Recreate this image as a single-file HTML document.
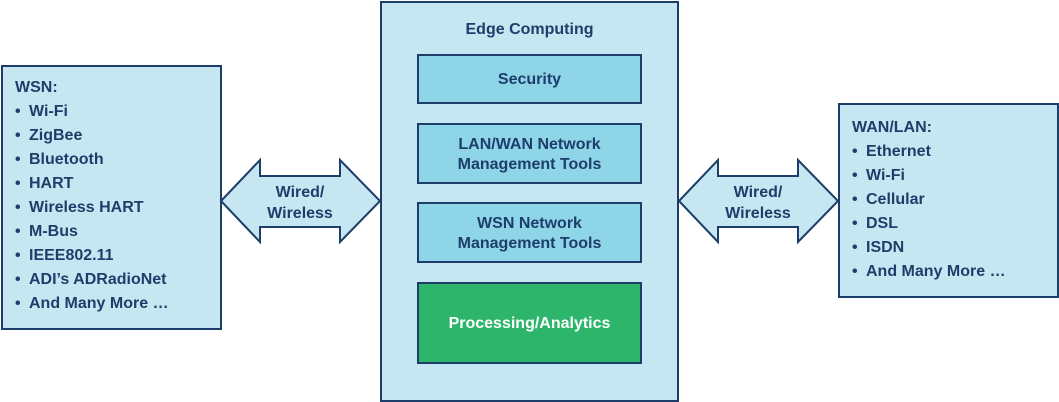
<!DOCTYPE html>
<html><head><style>
body{margin:0;width:1059px;height:402px;background:#fff;position:relative;overflow:hidden;font-family:"Liberation Sans",Arial,sans-serif;font-weight:bold;color:#1d3e6b;font-size:16px}
.b{position:absolute;box-sizing:border-box;border:2px solid #1d3e6b;background:#c6e7f1}
.i{position:absolute;box-sizing:border-box;border:2px solid #1d3e6b;background:#8ed5e7;display:flex;align-items:center;justify-content:center;text-align:center;line-height:20px;padding-top:2px}
.l{position:absolute;line-height:24px}
.l span{display:inline-block;width:14px}
</style></head><body>
<div class="b" style="left:1px;top:65px;width:221px;height:265px"></div>
<div class="l" style="left:15px;top:76px">WSN:<br><span>•</span>Wi-Fi<br><span>•</span>ZigBee<br><span>•</span>Bluetooth<br><span>•</span>HART<br><span>•</span>Wireless HART<br><span>•</span>M-Bus<br><span>•</span>IEEE802.11<br><span>•</span>ADI’s ADRadioNet<br><span>•</span>And Many More …</div>
<div class="b" style="left:380px;top:1px;width:299px;height:401px"></div>
<div style="position:absolute;left:380px;width:299px;top:21px;text-align:center">Edge Computing</div>
<div class="i" style="left:417px;top:54px;width:225px;height:50px">Security</div>
<div class="i" style="left:417px;top:123px;width:225px;height:61px">LAN/WAN Network<br>Management Tools</div>
<div class="i" style="left:417px;top:202px;width:225px;height:61px">WSN Network<br>Management Tools</div>
<div class="i" style="left:417px;top:282px;width:225px;height:82px;background:#2db56b;color:#fff">Processing/Analytics</div>
<div class="b" style="left:838px;top:103px;width:221px;height:195px"></div>
<div class="l" style="left:852px;top:116px">WAN/LAN:<br><span>•</span>Ethernet<br><span>•</span>Wi-Fi<br><span>•</span>Cellular<br><span>•</span>DSL<br><span>•</span>ISDN<br><span>•</span>And Many More …</div>
<svg style="position:absolute;left:0;top:0" width="1059" height="402">
<polygon points="221,201 260,160 260,176 340,176 340,160 380,201 340,242 340,227 260,227 260,242" fill="#c6e7f1" stroke="#1d3e6b" stroke-width="2"/>
<polygon points="679,201 718,160 718,176 798,176 798,160 838,201 798,242 798,227 718,227 718,242" fill="#c6e7f1" stroke="#1d3e6b" stroke-width="2"/>
</svg>
<div style="position:absolute;left:250px;width:100px;top:182px;text-align:center;line-height:21px">Wired/<br>Wireless</div>
<div style="position:absolute;left:708px;width:100px;top:182px;text-align:center;line-height:21px">Wired/<br>Wireless</div>
</body></html>
